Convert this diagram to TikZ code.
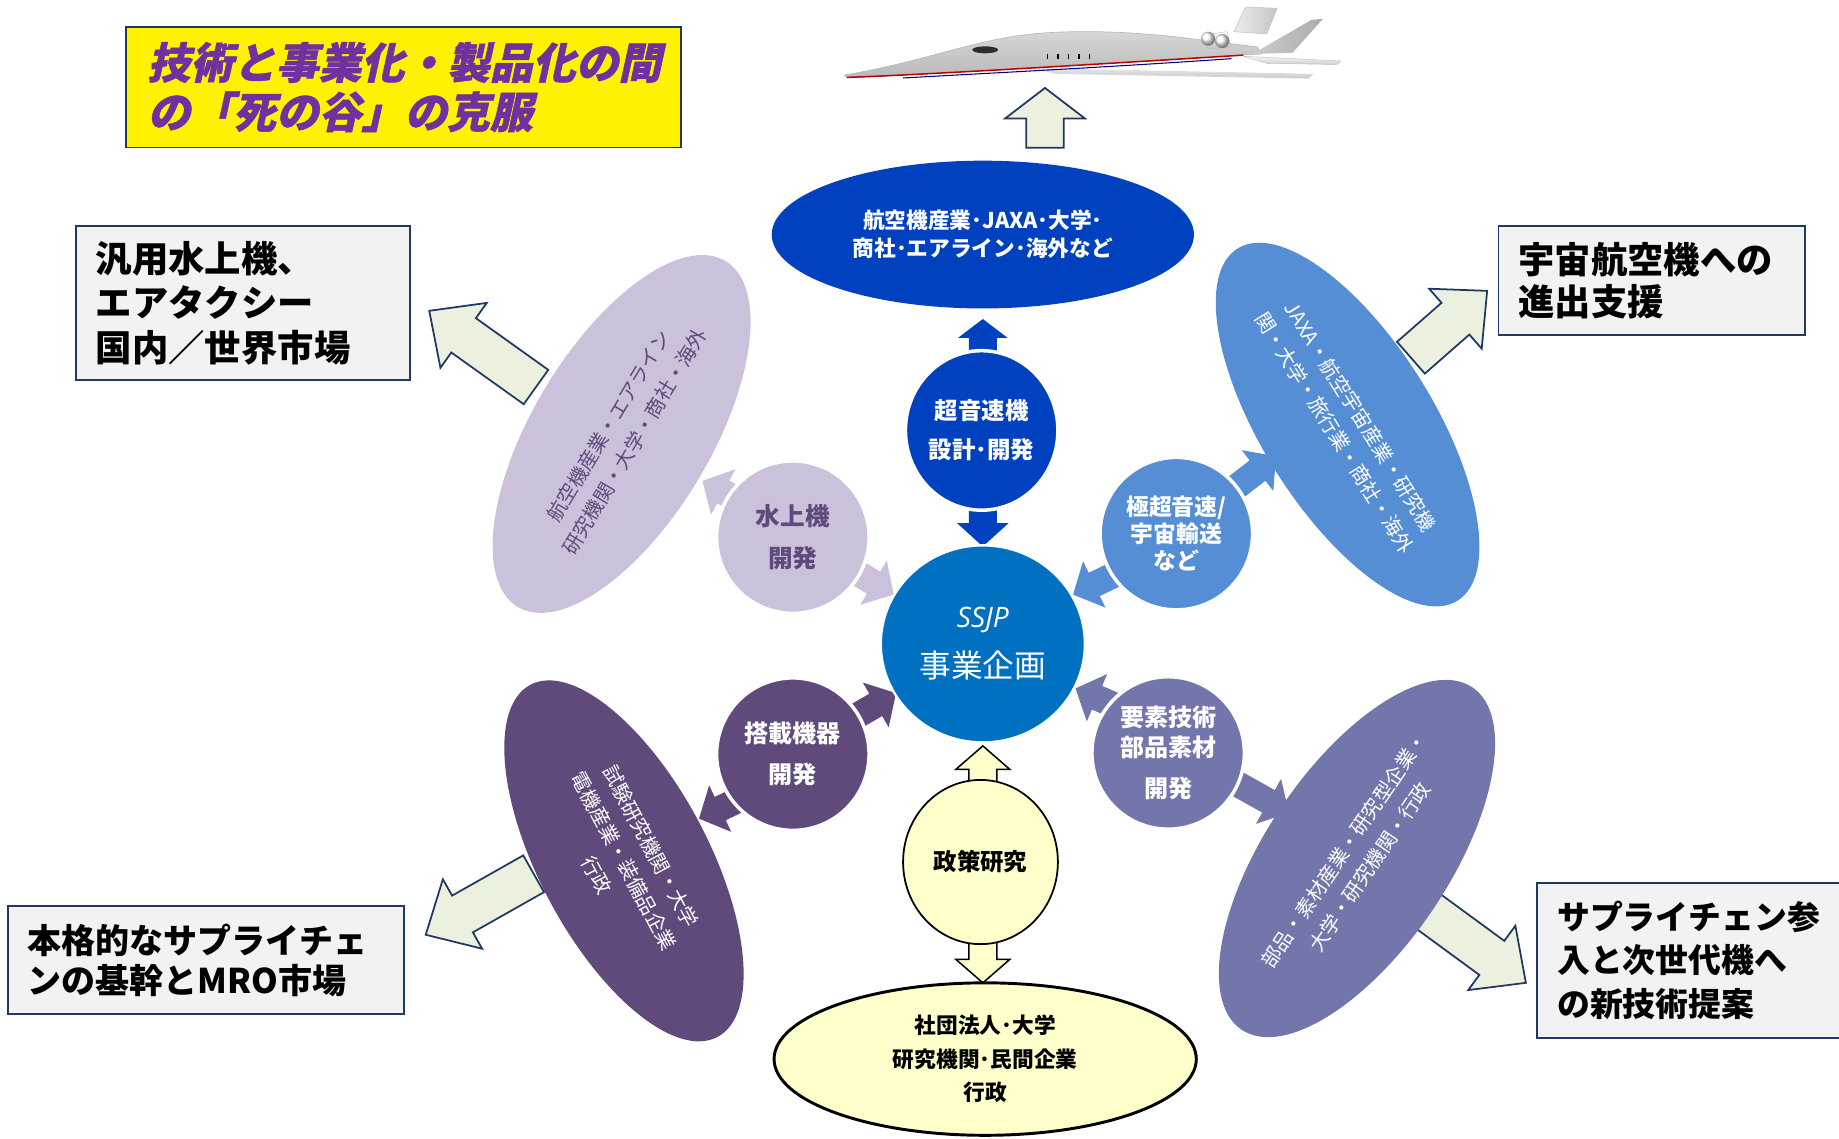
\documentclass[tikz,border=0pt]{standalone}
\usepackage{fontspec}
\setmainfont{Noto Sans CJK JP}
\newfontfamily\ttlfont{Noto Sans CJK JP}[FakeSlant=0.22,FakeBold=1.2]
\newfontfamily\ssjpfont{Open Sans}
\usetikzlibrary{shapes.geometric,calc}

\definecolor{navy}{RGB}{31,56,100}
\definecolor{boxgray}{RGB}{242,242,242}
\definecolor{arrowgreen}{RGB}{235,241,222}
\definecolor{ttlpurple}{RGB}{112,48,160}
\definecolor{deepblue}{RGB}{0,65,192}
\definecolor{midblue}{RGB}{0,112,192}
\definecolor{skyblue}{RGB}{85,142,213}
\definecolor{lavender}{RGB}{204,193,218}
\definecolor{plum}{RGB}{96,74,123}
\definecolor{slate}{RGB}{115,118,170}
\definecolor{cream}{RGB}{255,255,204}

% block arrow: [style]{tail}{tip}{half shaft}{half head}{head length}
\newcommand\blockarrow[6][]{%
  \coordinate (ba) at ($(#3)!#6pt!(#2)$);
  \filldraw[#1] ($(#2)!#4pt!90:(#3)$) -- ($(ba)!#4pt!90:(#3)$) -- ($(ba)!#5pt!90:(#3)$) -- (#3)
    -- ($(ba)!#5pt!-90:(#3)$) -- ($(ba)!#4pt!-90:(#3)$) -- ($(#2)!#4pt!-90:(#3)$) -- cycle;}

\tikzset{
  mkt/.style={draw=navy,line width=1.5,fill=boxgray,anchor=north west,align=left,inner xsep=17,inner ysep=0,font=\bfseries\fontsize{31}{38}\selectfont},
  bigarrow/.style={draw=navy,line width=1.5,fill=arrowgreen},
  creamarrow/.style={draw=black,line width=1.3,fill=cream},
  partner/.style={ellipse,inner sep=0,align=center,text=white,font=\fontsize{17}{26}\selectfont},
  field/.style={ellipse,draw=white,line width=3,inner sep=0,align=center,text=white,minimum width=130,minimum height=130,font=\bfseries\fontsize{20}{35}\selectfont}
}

\begin{document}
\begin{tikzpicture}[x=1pt,y=-1pt]
\useasboundingbox (0,0) rectangle (1568,971);

% plane
\begin{scope}[line join=round]
\shade[top color=gray!20,bottom color=gray!40] (880,58) -- (1120,63) -- (1116,67) -- (900,63) -- cycle;
\shade[left color=gray!15,right color=gray!45,draw=gray!50,line width=0.4] (1052,27) -- (1062,6) -- (1089,7) -- (1080,29) -- cycle;
\shade[top color=gray!30,middle color=white,bottom color=gray!55,draw=gray!55,line width=0.6] (720,64) .. controls (790,52) and (830,34) .. (880,29) .. controls (930,24) and (990,29) .. (1030,35) -- (1072,40) -- (1076,46) .. controls (1000,50) and (900,56) .. (840,60) .. controls (780,63) and (740,66) .. (722,66) -- cycle;
\shade[top color=white,bottom color=gray!50,draw=gray!50,line width=0.4] (1026,30) -- (1046,27) -- (1050,40) -- (1030,42) -- cycle;
\shade[ball color=white] (1030,33) ellipse[x radius=6,y radius=6]; \shade[ball color=white] (1042,35) ellipse[x radius=6,y radius=6];
\shade[left color=gray!40,right color=gray!65] (1068,46) -- (1118,17) -- (1128,16) -- (1102,45) -- cycle;
\shade[top color=gray!5,bottom color=gray!40,draw=gray!50,line width=0.4] (1060,48) -- (1143,52) -- (1140,55) -- (1080,54) -- cycle;
\draw[red!75!black,line width=1.3] (722,66) .. controls (780,64) and (900,57) .. (1060,47);
\draw[blue!55!black,line width=0.9] (770,66.5) .. controls (850,62) and (950,57) .. (1050,50);
\fill[gray!35!black] (840,42.5) ellipse[x radius=11,y radius=3];
\foreach \wx in {893,902,911,920,929} \draw[line width=1.2] (\wx,46) -- (\wx,50);
\end{scope}

% title and markets
\node[draw=navy,line width=1.5,fill=yellow,anchor=north west,minimum width=473,minimum height=103,inner xsep=18,text width=437,align=left,text=ttlpurple,font=\ttlfont\bfseries\fontsize{36.5}{42}\selectfont] (ttl) at (107,22) {技術と事業化・製品化の間\\の「死の谷」の克服};
\node[mkt,minimum width=285,minimum height=131,text width=251] (hydromkt) at (64,192) {汎用水上機、\\エアタクシー\\国内／世界市場};
\node[mkt,minimum width=261,minimum height=93,text width=227,font=\bfseries\fontsize{31}{36}\selectfont] (spacemkt) at (1277,192) {宇宙航空機への\\進出支援};
\node[mkt,minimum width=338,minimum height=92,text width=304,font=\bfseries\fontsize{29}{34}\selectfont] (supplymkt) at (6,772) {本格的なサプライチェ\\ンの基幹とMRO市場};
\node[mkt,minimum width=264,minimum height=132,text width=230,font=\bfseries\fontsize{28}{37}\selectfont] (nextmkt) at (1310,752) {サプライチェン参\\入と次世代機へ\\の新技術提案};

\coordinate (pl-a) at (891,126); \coordinate (pl-b) at (891,75);
\coordinate (hm-a) at (457,330); \coordinate (hm-b) at (366,265);
\coordinate (sm-a) at (1203,305); \coordinate (sm-b) at (1268,248);
\coordinate (su-a) at (455,745); \coordinate (su-b) at (363,797);
\coordinate (nx-a) at (1215,775); \coordinate (nx-b) at (1301,838);
\blockarrow[bigarrow]{pl-a}{pl-b}{16}{34}{26}
\blockarrow[bigarrow]{hm-a}{hm-b}{18}{34}{36}
\blockarrow[bigarrow]{sm-a}{sm-b}{18}{34}{36}
\blockarrow[bigarrow]{su-a}{su-b}{18}{34}{36}
\blockarrow[bigarrow]{nx-a}{nx-b}{18}{34}{36}

% partner groups
\node[partner,fill=deepblue,minimum width=360,minimum height=126,font=\bfseries\fontsize{18.5}{24}\selectfont] (makers) at (838,200) {航空機産業･JAXA･大学･\\商社･エアライン･海外など};
\node[partner,fill=lavender,text=plum,minimum width=344,minimum height=152,rotate=59] (seaplane) at (530,370) {航空機産業・エアライン\\研究機関・大学・商社・海外};
\node[partner,fill=skyblue,minimum width=354,minimum height=146,rotate=-58] (spacegrp) at (1149,362) {JAXA・航空宇宙産業・研究機\\関・大学・旅行業・商社・海外};
\node[partner,fill=plum,minimum width=340,minimum height=144,rotate=-62] (equipgrp) at (532,734) {試験研究機関・大学\\電機産業・装備品企業\\行政};
\node[partner,fill=slate,minimum width=352,minimum height=156,rotate=56] (matgrp) at (1157,732) {部品・素材産業・研究型企業・\\大学・研究機関・行政};

% arrows around the hub
\coordinate (so-a) at (838,312); \coordinate (so-b) at (838,272);
\coordinate (so-c) at (838,428); \coordinate (so-d) at (838,466);
\coordinate (hy-a) at (655,440); \coordinate (hy-b) at (599,410);
\coordinate (hy-c) at (700,470); \coordinate (hy-d) at (762,507);
\coordinate (hp-a) at (975,478); \coordinate (hp-b) at (915,507);
\coordinate (hp-c) at (1035,430); \coordinate (hp-d) at (1088,389);
\coordinate (ob-a) at (700,628); \coordinate (ob-b) at (764,591);
\coordinate (ob-c) at (655,670); \coordinate (ob-d) at (596,698);
\coordinate (el-a) at (975,612); \coordinate (el-b) at (917,587);
\coordinate (el-c) at (1040,660); \coordinate (el-d) at (1099,693);
\blockarrow[fill=deepblue,draw=none]{so-a}{so-b}{12}{21}{16}
\blockarrow[fill=deepblue,draw=none]{so-c}{so-d}{12}{22}{20}
\blockarrow[fill=lavender,draw=none]{hy-a}{hy-b}{11}{22}{20}
\blockarrow[fill=lavender,draw=none]{hy-c}{hy-d}{11}{22}{20}
\blockarrow[fill=skyblue,draw=none]{hp-a}{hp-b}{11}{22}{20}
\blockarrow[fill=skyblue,draw=none]{hp-c}{hp-d}{11}{22}{20}
\blockarrow[fill=plum,draw=none]{ob-a}{ob-b}{11}{22}{20}
\blockarrow[fill=plum,draw=none]{ob-c}{ob-d}{11}{22}{20}
\blockarrow[fill=slate,draw=none]{el-a}{el-b}{11}{22}{20}
\blockarrow[fill=slate,draw=none]{el-c}{el-d}{11}{22}{20}

% development fields
\node[field,fill=deepblue,minimum height=136,font=\bfseries\fontsize{20}{33}\selectfont] (sonic) at (837,367) {超音速機\\設計･開発};
\node[field,fill=lavender,text=plum,font=\bfseries\fontsize{21}{36}\selectfont] (hydro) at (676,458) {水上機\\開発};
\node[field,fill=skyblue,font=\bfseries\fontsize{19.5}{23}\selectfont] (hyper) at (1003,455) {極超音速/\\宇宙輸送\\など};
\node[field,fill=plum,font=\bfseries\fontsize{20.5}{35}\selectfont] (onboard) at (676,643) {搭載機器\\開発};
\node[field,fill=slate,font=\bfseries\fontsize{20.5}{25}\selectfont] (element) at (996,642) {要素技術\\部品素材\\[10pt]開発};
\node[field,fill=midblue,line width=2,minimum width=174,minimum height=168,font=\fontsize{27}{43}\selectfont] (ssjp) at (838,549) {{\ssjpfont\itshape\fontsize{24}{24}\selectfont SSJP}\\事業企画};

% policy research
\coordinate (po-a) at (838,672); \coordinate (po-b) at (838,636);
\coordinate (po-c) at (838,800); \coordinate (po-d) at (838,838);
\blockarrow[creamarrow]{po-a}{po-b}{12}{23}{20}
\blockarrow[creamarrow]{po-c}{po-d}{12}{23}{20}
\node[field,fill=cream,draw=black,line width=1.5,text=black,minimum width=132,minimum height=140] (policy) at (836,735) {政策研究};
\node[partner,fill=cream,draw=black,line width=2.5,text=black,minimum width=360,minimum height=130,font=\bfseries\fontsize{18.5}{28.5}\selectfont] (policygrp) at (840,903) {社団法人･大学\\研究機関･民間企業\\行政};
\end{tikzpicture}
\end{document}
